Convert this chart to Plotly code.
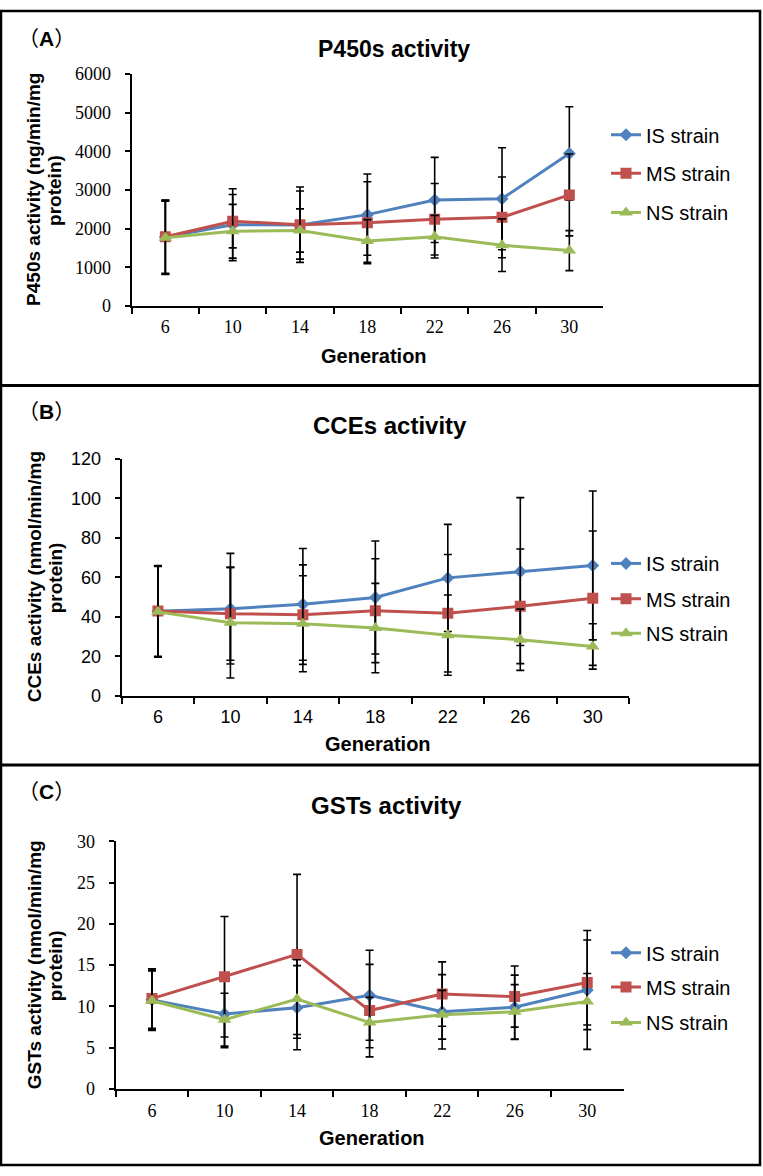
import plotly.graph_objects as go

W, H = 763, 1176

# ---------------- data ----------------
generations = ["6", "10", "14", "18", "22", "26", "30"]
strains = ["IS strain", "MS strain", "NS strain"]

p450_is = [1780, 2100, 2090, 2360, 2740, 2770, 3940]
p450_ms = [1790, 2190, 2100, 2150, 2240, 2290, 2870]
p450_ns = [1760, 1930, 1950, 1680, 1790, 1570, 1430]
p450_is_err = [950, 930, 880, 1050, 1100, 1320, 1210]
p450_ms_err = [950, 690, 975, 1060, 925, 1045, 1060]
p450_ns_err = [950, 695, 560, 550, 550, 680, 517]

cce_is = [42.8, 44.1, 46.3, 49.8, 59.7, 62.9, 66.0]
cce_ms = [43.0, 41.5, 41.1, 43.1, 41.8, 45.3, 49.4]
cce_ns = [42.5, 37.0, 36.5, 34.3, 30.7, 28.4, 25.0]
cce_is_err = [23, 28, 28.3, 28.6, 27.1, 37.4, 37.7]
cce_ms_err = [23, 23.5, 25.2, 26.3, 29.7, 29, 34]
cce_ns_err = [23, 28, 24.3, 22.6, 20.3, 15.5, 11.5]

gst_is = [10.8, 9.1, 9.85, 11.35, 9.35, 9.9, 12.0]
gst_ms = [10.95, 13.6, 16.3, 9.5, 11.5, 11.2, 12.9]
gst_ns = [10.7, 8.4, 10.9, 8.05, 9.0, 9.35, 10.6]
gst_is_err = [3.6, 4.1, 5.1, 5.45, 4.5, 3.9, 7.2]
gst_ms_err = [3.6, 7.3, 9.7, 5.6, 3.9, 3.7, 5.15]
gst_ns_err = [3.6, 3.2, 4.75, 3.05, 2.95, 3.3, 3.4]

# ---------------- helpers ----------------
def fx(px):
    return px / W

def fy(py):
    return 1 - py / H

SANS = "Arial, Liberation Sans, sans-serif"
SERIF = "Times New Roman, Liberation Serif, serif"
colors = ["#4F81BD", "#C0504D", "#9BBB59"]
symbols = ["diamond", "square", "triangle-up"]
msizes = [10, 11, 12]

panels = [
    dict(series=[p450_is, p450_ms, p450_ns], errs=[p450_is_err, p450_ms_err, p450_ns_err],
         xdom=(131.7, 603), ydom=(301, 65), yrange=(0, 6000), dtick=1000, tickfont=SERIF,
         leg_y=[127, 166, 206], letter="A", title="P450s activity", title_size=23,
         title_xy=(394, 40), letter_y=29,
         ytitle=("P450s activity (ng/min/mg", "protein)"), gen_xy=(374, 352)),
    dict(series=[cce_is, cce_ms, cce_ns], errs=[cce_is_err, cce_ms_err, cce_ns_err],
         xdom=(121.7, 629), ydom=(697.7, 456.5), yrange=(0, 120), dtick=20, tickfont=SANS,
         leg_y=[563, 599, 634], letter="B", title="CCEs activity", title_size=24,
         title_xy=(390, 423), letter_y=408,
         ytitle=("CCEs activity (nmol/min/mg", "protein)"), gen_xy=(378, 747)),
    dict(series=[gst_is, gst_ms, gst_ns], errs=[gst_is_err, gst_ms_err, gst_ns_err],
         xdom=(115.7, 623.5), ydom=(1097.7, 845.7), yrange=(0, 30), dtick=5, tickfont=SERIF,
         leg_y=[959, 994, 1030], letter="C", title="GSTs activity", title_size=24,
         title_xy=(386, 809), letter_y=795,
         ytitle=("GSTs activity (nmol/min/mg", "protein)"), gen_xy=(372, 1148)),
]

fig = go.Figure()
annotations = []
layout_extra = {}
leg_idx = 0

for p_i, p in enumerate(panels):
    sfx = "" if p_i == 0 else str(p_i + 1)
    xa, ya = "x" + sfx, "y" + sfx
    for s_i in range(3):
        leg_idx += 1
        legname = "legend" if leg_idx == 1 else "legend%d" % leg_idx
        fig.add_trace(go.Scatter(
            x=generations, y=p["series"][s_i], xaxis=xa, yaxis=ya,
            mode="lines+markers", name=strains[s_i], legend=legname,
            line=dict(color=colors[s_i], width=3),
            marker=dict(symbol=symbols[s_i], size=msizes[s_i], color=colors[s_i]),
            error_y=dict(type="data", array=p["errs"][s_i], visible=True,
                         color="black", thickness=1.6, width=4),
        ))
        layout_extra[legname] = dict(
            x=fx(606), y=fy(p["leg_y"][s_i]), xanchor="left", yanchor="middle",
            bgcolor="rgba(0,0,0,0)", borderwidth=0,
            font=dict(family=SANS, size=20, color="black"),
        )
    layout_extra["xaxis" + sfx] = dict(
        type="category", domain=[fx(p["xdom"][0]), fx(p["xdom"][1])], anchor=ya,
        range=[-0.5, 6.5], tickson="boundaries", ticks="outside", ticklen=6, tickwidth=2,
        tickcolor="black", showline=True, linecolor="black", linewidth=2,
        showgrid=False, zeroline=False, ticklabelstandoff=4,
        tickfont=dict(family=p["tickfont"], size=18, color="black"),
    )
    layout_extra["yaxis" + sfx] = dict(
        domain=[fy(p["ydom"][0]), fy(p["ydom"][1])], anchor=xa,
        range=list(p["yrange"]), dtick=p["dtick"], tick0=0, ticks="outside", ticklen=5,
        tickwidth=2, tickcolor="black", showline=True, linecolor="black", linewidth=2,
        showgrid=False, zeroline=False, ticklabelstandoff=10,
        tickfont=dict(family=p["tickfont"], size=18, color="black"),
    )
    annotations.append(dict(
        text="（<b>%s</b>）" % p["letter"], x=fx(16), y=fy(p["letter_y"]), xref="paper", yref="paper",
        xanchor="left", yanchor="middle", showarrow=False,
        font=dict(family="Arial, Liberation Sans, Noto Sans CJK SC", size=21, color="black")))
    annotations.append(dict(
        text="<b>%s</b>" % p["title"], x=fx(p["title_xy"][0]), y=fy(p["title_xy"][1]),
        xref="paper", yref="paper", xanchor="center", yanchor="middle", showarrow=False,
        font=dict(family=SANS, size=p["title_size"], color="black")))
    ymid = (p["ydom"][0] + p["ydom"][1]) / 2
    for line_txt, xc in zip(p["ytitle"], (34, 55)):
        annotations.append(dict(
            text="<b>%s</b>" % line_txt, x=fx(xc), y=fy(ymid),
            xref="paper", yref="paper", xanchor="center", yanchor="middle", showarrow=False,
            textangle=-90, font=dict(family=SANS, size=19, color="black")))
    annotations.append(dict(
        text="<b>Generation</b>", x=fx(p["gen_xy"][0]), y=fy(p["gen_xy"][1]),
        xref="paper", yref="paper", xanchor="center", yanchor="middle", showarrow=False,
        font=dict(family=SANS, size=20, color="black")))

shapes = [
    dict(type="rect", xref="paper", yref="paper", x0=fx(1), x1=fx(760), y0=fy(1), y1=fy(1175),
         line=dict(color="black", width=2.5)),
    dict(type="line", xref="paper", yref="paper", x0=fx(1), x1=fx(760), y0=fy(382), y1=fy(382),
         line=dict(color="black", width=3)),
    dict(type="line", xref="paper", yref="paper", x0=fx(1), x1=fx(760), y0=fy(768), y1=fy(768),
         line=dict(color="black", width=3)),
]

fig.update_layout(
    width=W, height=H, margin=dict(l=0, r=0, t=0, b=0),
    paper_bgcolor="white", plot_bgcolor="white",
    showlegend=True, annotations=annotations, shapes=shapes,
    **layout_extra,
)

fig.write_html(
    "out.html",
    config={"displayModeBar": False},
    post_script=(
        "document.body.style.margin='0';document.body.style.padding='0';"
        "var g=document.getElementById('{plot_id}');"
        "g.style.position='fixed';g.style.top='0px';g.style.left='0px';"
    ),
)
